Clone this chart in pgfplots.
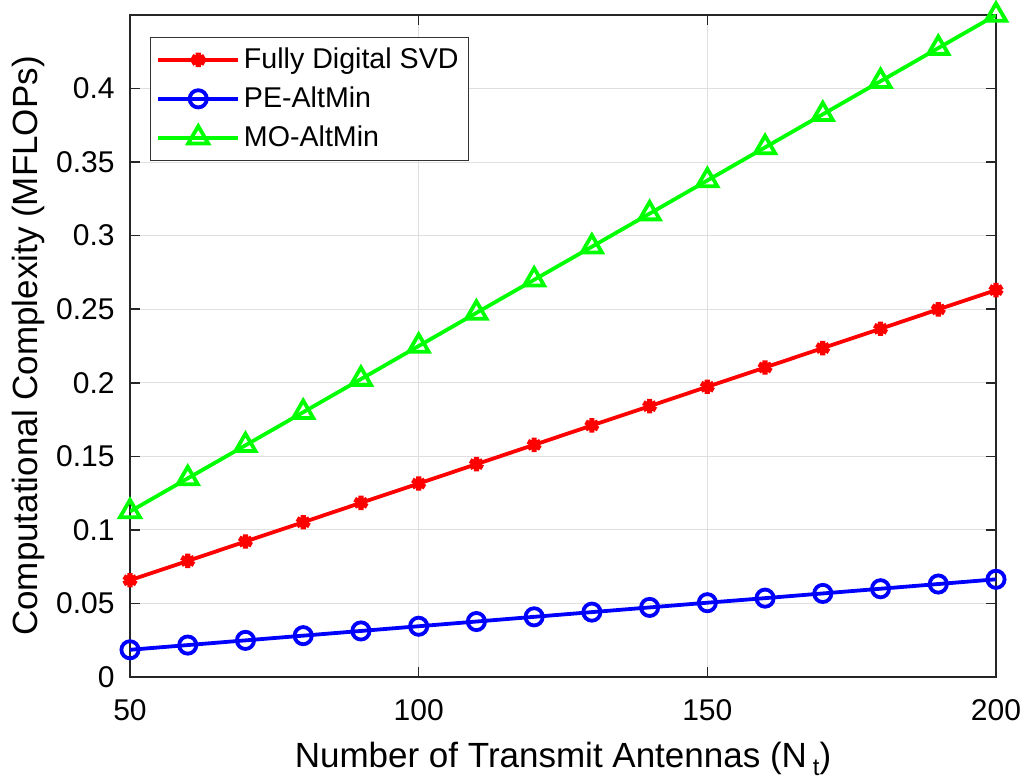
\documentclass[border=0pt]{standalone}
\usepackage{fontspec}
\setmainfont{Liberation Sans}
\usepackage{pgfplots}
\pgfplotsset{compat=1.18}
\begin{document}
\fontsize{14}{17}\selectfont
\begin{tikzpicture}
\begin{axis}[
  name=ax,
  width=433pt, height=331pt, scale only axis,
  xmin=50, xmax=200, ymin=0, ymax=0.45,
  xtick={50,100,150,200},
  ytick={0,0.05,0.1,0.15,0.2,0.25,0.3,0.35,0.4},
  yticklabels={0,0.05,0.1,0.15,0.2,0.25,0.3,0.35,0.4},
  /pgf/number format/assume math mode=true,
  tick align=inside, major tick length=5pt,
  axis line style={black!85, line width=0.8pt},
  every tick/.style={black!85, line width=0.8pt},
  grid=major, grid style={gray!25, line width=0.5pt},
  xlabel={Number of Transmit Antennas (N\,\raisebox{-0.45ex}{\fontsize{12}{14}\selectfont t})},
  ylabel={Computational Complexity (MFLOPs)},
  ticklabel style={font=\fontsize{15}{18}\selectfont},
  label style={font=\fontsize{17.5}{21}\selectfont},
  xticklabel style={anchor=base, yshift=-21.5pt},
  yticklabel style={anchor=east, inner sep=0pt, xshift=-7.5pt},
  xlabel style={at={(axis description cs:0.5,0)}, anchor=base, yshift=-45pt},
  ylabel style={at={(axis description cs:0,0.5)}, anchor=center, yshift=51pt},
  legend style={at={(0.023,0.967)}, anchor=north west, draw=black!80,
    line width=0.6pt, font=\fontsize{14.3}{17}\selectfont,
    row sep=3pt, inner sep=3pt},
  legend cell align=left,
  legend image code/.code={
    \draw[mark repeat=2,mark phase=2] plot coordinates {(0cm,0cm) (0.7cm,0cm) (1.4cm,0cm)};},
  every axis plot/.append style={line width=1.9pt},
]
\addplot[red, mark=asterisk, mark size=3.6pt, mark options={line width=2.6pt}] coordinates {
(50,0.0658) (60,0.0789) (70,0.0921) (80,0.1052) (90,0.1184) (100,0.1315)
(110,0.1447) (120,0.1578) (130,0.1710) (140,0.1841) (150,0.1973) (160,0.2104)
(170,0.2236) (180,0.2367) (190,0.2499) (200,0.2630)};
\addlegendentry{Fully Digital SVD}
\addplot[blue, mark=o, mark size=4.3pt, mark options={line width=1.9pt}] coordinates {
(50,0.0185) (60,0.0217) (70,0.0249) (80,0.0281) (90,0.0313) (100,0.0345)
(110,0.0377) (120,0.0409) (130,0.0441) (140,0.0473) (150,0.0505) (160,0.0536)
(170,0.0568) (180,0.0600) (190,0.0632) (200,0.0664)};
\addlegendentry{PE-AltMin}
\addplot[green, mark=triangle, mark size=5.8pt, mark options={line width=1.9pt}] coordinates {
(50,0.1125) (60,0.1350) (70,0.1575) (80,0.1800) (90,0.2025) (100,0.2250)
(110,0.2475) (120,0.2700) (130,0.2925) (140,0.3150) (150,0.3375) (160,0.3600)
(170,0.3825) (180,0.4050) (190,0.4275) (200,0.4500)};
\addlegendentry{MO-AltMin}
\end{axis}
\pgfresetboundingbox
\path[use as bounding box] ([xshift=-65pt,yshift=-51.5pt]ax.south west)
  rectangle ([xshift=15pt,yshift=7.5pt]ax.north east);
\end{tikzpicture}
\end{document}
